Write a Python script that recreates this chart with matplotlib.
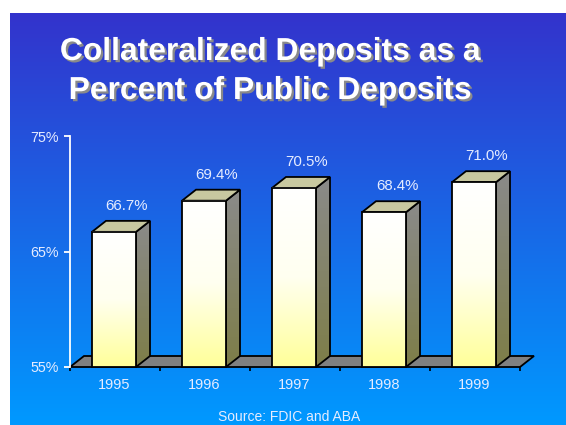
import numpy as np
import matplotlib
matplotlib.use("Agg")
import matplotlib.pyplot as plt
from matplotlib.patches import Polygon
from matplotlib.colors import LinearSegmentedColormap
import matplotlib.patheffects as pe

# ---- data ----
years = ["1995", "1996", "1997", "1998", "1999"]
values = [66.7, 69.4, 70.5, 68.4, 71.0]
value_labels = ["66.7%", "69.4%", "70.5%", "68.4%", "71.0%"]
yticks = [55, 65, 75]
ytick_labels = ["55%", "65%", "75%"]
title_lines = ["Collateralized Deposits as a", "Percent of Public Deposits"]
source_text = "Source: FDIC and ABA"

W, H = 566, 425
fig = plt.figure(figsize=(W / 100, H / 100), dpi=100)
fig.patch.set_facecolor("white")

# background gradient
bg = fig.add_axes([10 / W, 0, (W - 10) / W, (H - 13) / H], zorder=-5)
bg.set_axis_off()
grad = np.linspace(0, 1, 256).reshape(-1, 1)
bg_cmap = LinearSegmentedColormap.from_list("bg", ["#3333CC", "#0099FF"])
bg.imshow(grad, aspect="auto", cmap=bg_cmap, extent=[0, 1, 0, 1], origin="upper")
bg.set_xlim(0, 1)
bg.set_ylim(0, 1)

# main axes: x 0..5 -> px 70..520, y 55..75 -> px 367..136
ax = fig.add_axes([70 / W, (H - 367) / H, 450 / W, 231 / H])
ax.set_facecolor("none")
ymin, ymax = 55, 75
ax.set_xlim(0, 5)
ax.set_ylim(ymin, ymax)

ddx = 14 / 90.0
ddy = 11 / 231.0 * 20

# floor
floor = Polygon([(0, ymin), (5, ymin), (5 + ddx, ymin + ddy), (ddx, ymin + ddy)],
                closed=True, facecolor="#808080", edgecolor="black", lw=1.3,
                clip_on=False, zorder=1)
ax.add_patch(floor)

front_cmap = LinearSegmentedColormap.from_list("front", ["#FFFFFF", "#FFFFF0", "#FFFF99"])
side_cmap = LinearSegmentedColormap.from_list("side", ["#8A8A8A", "#7E7E48"])

for i, v in enumerate(values):
    x0 = i + 22 / 90.0
    x1 = i + 66 / 90.0
    z = 2 + i
    # side face
    side_pts = [(x1, ymin), (x1 + ddx, ymin + ddy), (x1 + ddx, v + ddy), (x1, v)]
    side = Polygon(side_pts, closed=True, facecolor="none", edgecolor="black", lw=1.3,
                   clip_on=False, zorder=z + 0.2)
    ax.add_patch(side)
    clip_side = Polygon(side_pts, closed=True, transform=ax.transData)
    im = ax.imshow(grad, aspect="auto", cmap=side_cmap, origin="upper",
                   extent=[x1, x1 + ddx, ymin, v + ddy], zorder=z + 0.1)
    im.set_clip_path(clip_side)
    # top face
    top = Polygon([(x0, v), (x1, v), (x1 + ddx, v + ddy), (x0 + ddx, v + ddy)],
                  closed=True, facecolor="#C8C8A0", edgecolor="black", lw=1.3,
                  clip_on=False, zorder=z + 0.2)
    ax.add_patch(top)
    # front face
    ax.imshow(grad, aspect="auto", cmap=front_cmap, origin="upper",
              extent=[x0, x1, ymin, v], zorder=z + 0.3)
    front = Polygon([(x0, ymin), (x1, ymin), (x1, v), (x0, v)], closed=True,
                    facecolor="none", edgecolor="black", lw=1.3, clip_on=False,
                    zorder=z + 0.4)
    ax.add_patch(front)
    # value label
    ax.text((x0 + x1) / 2 + 13 / 90.0, v + 2.25, value_labels[i], ha="center",
            va="center", color="#E6ECFF", fontsize=10.8, family="Liberation Sans",
            zorder=20)

ax.set_xlim(0, 5)
ax.set_ylim(ymin, ymax)

for s in ["top", "right", "bottom"]:
    ax.spines[s].set_visible(False)
ax.spines["left"].set_color("white")
ax.spines["left"].set_linewidth(1.3)

ax.set_yticks(yticks)
ax.set_yticklabels(ytick_labels, color="#E6ECFF", fontsize=10.3, family="Liberation Sans")
ax.tick_params(axis="y", colors="white", length=4, width=1.3, pad=4, labelcolor="#E6ECFF")

ax.set_xticks([i + 0.49 for i in range(len(years))])
ax.set_xticklabels(years, fontsize=10.5, family="Liberation Sans", color="#E6ECFF")
ax.tick_params(axis="x", which="major", length=0, pad=8, labelcolor="#E6ECFF")
ax.set_xticks(range(6), minor=True)
ax.tick_params(axis="x", which="minor", length=3, width=1.2, color="black")

# title with shadow
for k, line in enumerate(title_lines):
    yb = [60, 99][k]
    fig.text(270 / W, 1 - yb / H, line, ha="center", va="baseline", color="white",
             fontsize=22.9, fontweight="bold", family="Liberation Sans",
             path_effects=[pe.SimplePatchShadow(offset=(1.6, -1.6), shadow_rgbFace="#8A8A8A", alpha=1.0), pe.Normal()])

fig.text(289 / W, 1 - 417 / H, source_text, ha="center", va="center", color="#E6ECFF",
         fontsize=10, family="Liberation Sans")

fig.savefig("out.png", dpi=100, facecolor=fig.get_facecolor())
